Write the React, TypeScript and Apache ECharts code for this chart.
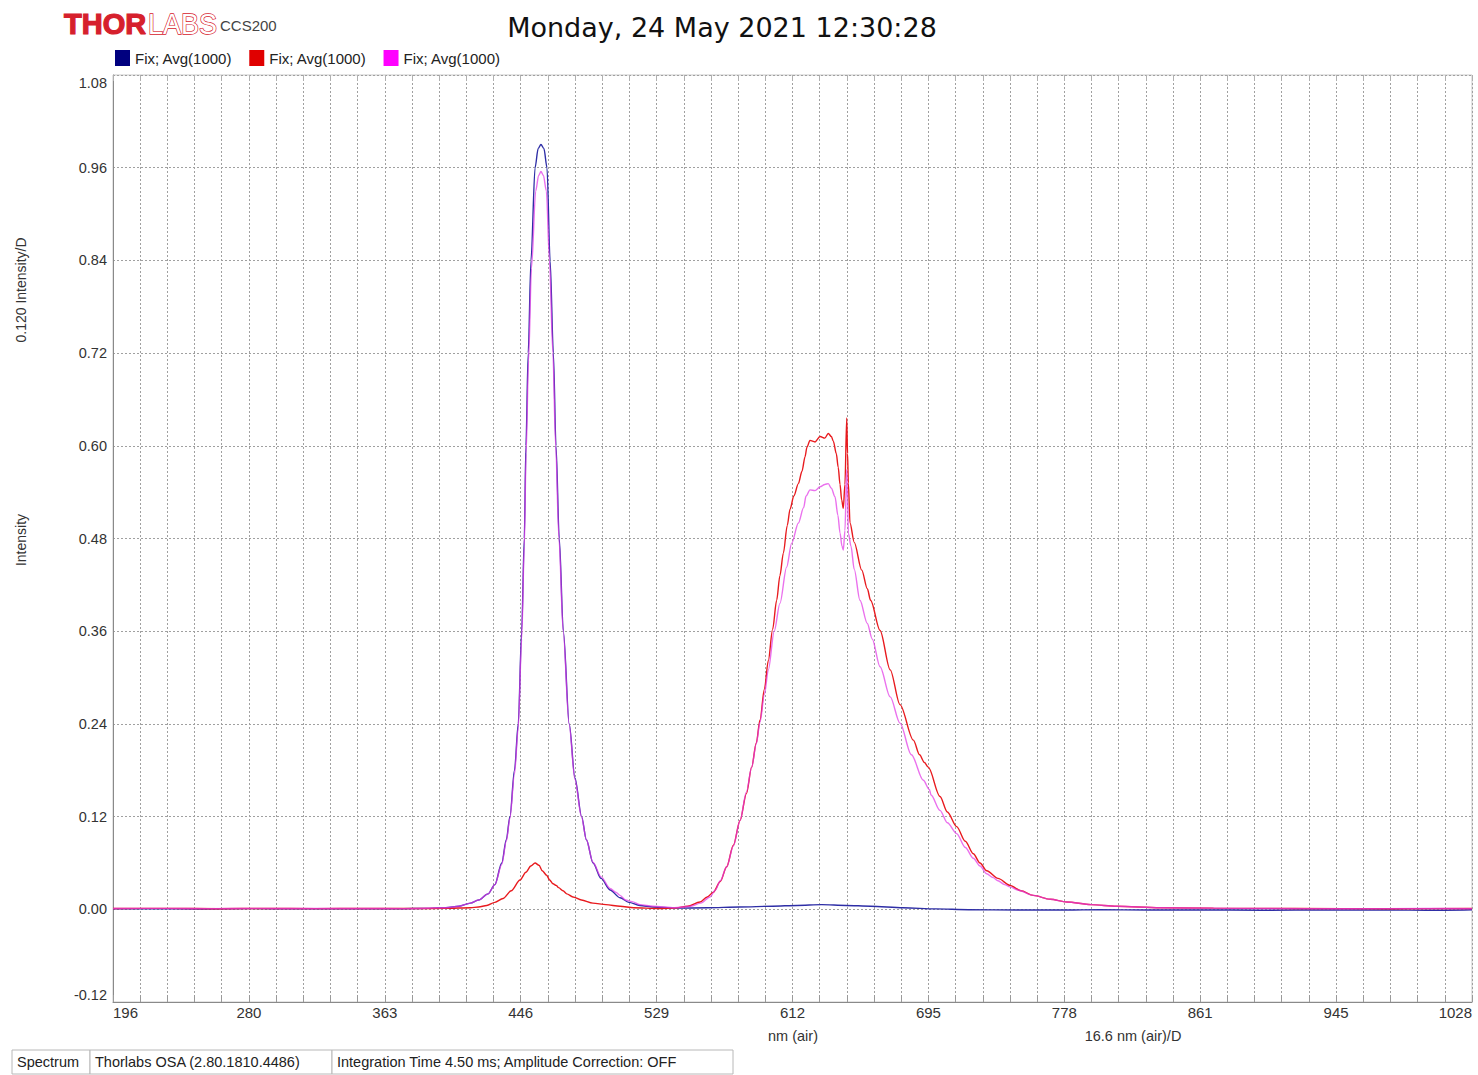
import React, { useEffect, useRef } from "react";
import * as echarts from "echarts";

// ---- axis configuration values ----
const X_MIN = 196.2;
const X_MAX = 1028.2;
const X_DIV = 16.64; // nm per division
const Y_MIN = -0.12;
const Y_MAX = 1.08;
const Y_DIV = 0.12;
const xTickLabels = ["196", "280", "363", "446", "529", "612", "695", "778", "861", "945", "1028"];

// ---- series data [wavelength nm, intensity] ----
const seriesA: number[][] = [
  [196.2, 0.0005], [220, 0.0008], [250, 0.0004], [280, 0.0009], [310, 0.0006], [340, 0.0008],
  [370, 0.0007], [390, 0.0012], [400, 0.002], [408, 0.004], [415, 0.008], [420, 0.012],
  [425.8, 0.02], [430, 0.032], [434.2, 0.06], [437, 0.09], [439.2, 0.12], [442, 0.18],
  [444.3, 0.24], [446.4, 0.36], [448, 0.48], [449, 0.6], [450.4, 0.72], [452.1, 0.84],
  [454.6, 0.96], [456.5, 0.985], [458.2, 0.99], [460, 0.985], [461.9, 0.96], [463.8, 0.84],
  [465.8, 0.72], [467.4, 0.6], [469.4, 0.48], [471.9, 0.36], [475.5, 0.24], [479, 0.17],
  [483.1, 0.12], [486, 0.09], [490.1, 0.06], [495, 0.04], [500.5, 0.025], [506.6, 0.015],
  [512, 0.009], [518.8, 0.005], [526.8, 0.003], [540, 0.0015], [560, 0.002], [580, 0.003],
  [600, 0.004], [615, 0.005], [630, 0.006], [645, 0.005], [660, 0.004], [680, 0.002],
  [700, 0.0005], [720, -0.0005], [750, -0.001], [780, -0.001], [800, -0.0005], [830, -0.001],
  [860, -0.0008], [900, -0.0012], [940, -0.0008], [980, -0.001], [1000, -0.0012], [1028.2, -0.0005],
];

const seriesB: number[][] = [
  [196.2, 0.001], [230, 0.0012], [260, 0.0008], [290, 0.0011], [320, 0.0009], [350, 0.0012],
  [380, 0.001], [400, 0.0012], [415, 0.002], [420, 0.003], [425, 0.005], [430, 0.009],
  [435, 0.014], [440, 0.024], [445.4, 0.038], [449, 0.048], [452, 0.056], [454.6, 0.06],
  [457, 0.057], [459, 0.05], [461.7, 0.044], [463.5, 0.038], [465.6, 0.033], [467.5, 0.031],
  [469, 0.028], [471.7, 0.024], [474, 0.02], [477.8, 0.016], [483, 0.012], [490, 0.008],
  [498, 0.006], [506.6, 0.004], [515, 0.002], [530, 0.001], [540, 0.0015], [548, 0.004],
  [555.6, 0.0095], [560, 0.016], [563.7, 0.022], [568, 0.036], [571.9, 0.055], [576, 0.083],
  [580.1, 0.115], [584, 0.15], [587.2, 0.184], [590, 0.215], [592.3, 0.245], [595, 0.285],
  [597.4, 0.322], [600, 0.362], [602.5, 0.4], [604.5, 0.432], [606.6, 0.461], [609, 0.497],
  [610.7, 0.518], [613, 0.535], [615.8, 0.551], [618, 0.567], [619.9, 0.586], [621, 0.598],
  [622.9, 0.607], [626, 0.605], [629.1, 0.612], [632, 0.61], [634.1, 0.616], [636, 0.612],
  [637.2, 0.606], [639, 0.59], [640.2, 0.572], [641.3, 0.55], [642.3, 0.53], [643.3, 0.519],
  [644.3, 0.55], [645.4, 0.636], [645.9, 0.59], [646.4, 0.552], [647.4, 0.5], [650, 0.475],
  [654.6, 0.439], [658, 0.415], [660, 0.4], [665.8, 0.361], [672, 0.31], [678, 0.265],
  [686.2, 0.219], [690, 0.2], [693, 0.19], [695.3, 0.184], [702.5, 0.146], [707, 0.126],
  [712.7, 0.107], [718, 0.088], [722.9, 0.072], [727, 0.06], [731.1, 0.05], [738, 0.04],
  [745.4, 0.031], [752, 0.024], [759.6, 0.018], [770, 0.013], [780.1, 0.0095], [795, 0.006],
  [810.7, 0.004], [837.2, 0.002], [870, 0.0015], [920, 0.001], [980, 0.0008], [1028.2, 0.001],
];

const seriesC: number[][] = [
  [196.2, 0.001], [225, 0.0012], [255, 0.0009], [285, 0.0012], [315, 0.001], [345, 0.0011],
  [375, 0.0009], [400, 0.002], [408, 0.004], [415, 0.008], [420, 0.012], [425.8, 0.02],
  [430, 0.032], [434.2, 0.058], [437, 0.088], [439.2, 0.118], [442, 0.175], [444.3, 0.235],
  [446.4, 0.35], [448, 0.47], [449.1, 0.59], [450.6, 0.71], [452.4, 0.83], [455, 0.93],
  [456.8, 0.95], [458.2, 0.955], [459.7, 0.95], [461.5, 0.93], [463.4, 0.84], [465.5, 0.72],
  [467.2, 0.6], [469.2, 0.48], [471.8, 0.36], [475.4, 0.24], [479, 0.168], [483, 0.12],
  [486, 0.09], [490, 0.061], [495, 0.042], [500.5, 0.027], [504, 0.022], [506.6, 0.018],
  [510, 0.012], [514, 0.01], [518.8, 0.006], [526.8, 0.004], [540, 0.002], [550, 0.004],
  [556, 0.008], [561.7, 0.016], [565, 0.025], [568, 0.037], [571.9, 0.055], [576, 0.082],
  [580.1, 0.115], [584, 0.152], [587.2, 0.184], [590, 0.214], [592.3, 0.242], [595, 0.278],
  [597.4, 0.31], [601, 0.36], [604.5, 0.396], [608.6, 0.443], [611.7, 0.474], [615.8, 0.5],
  [619, 0.52], [620.5, 0.535], [622.9, 0.543], [626, 0.542], [629.1, 0.547], [632, 0.55],
  [634.1, 0.551], [636, 0.545], [638.2, 0.534], [640, 0.51], [641.3, 0.487], [642.5, 0.47],
  [643.3, 0.465], [644.3, 0.49], [645.4, 0.569], [645.9, 0.53], [646.4, 0.487], [648, 0.47],
  [650, 0.44], [653.5, 0.4], [658, 0.37], [661, 0.35], [665.8, 0.314], [672, 0.275],
  [678, 0.241], [685, 0.2], [692.3, 0.167], [696, 0.155], [697, 0.148], [702.5, 0.128],
  [707, 0.112], [712.7, 0.098], [718, 0.08], [722.9, 0.066], [727, 0.056], [731.1, 0.046],
  [735, 0.041], [738, 0.037], [742, 0.032], [745.4, 0.029], [750, 0.025], [759.6, 0.018],
  [770, 0.013], [780.1, 0.0095], [795, 0.006], [810.7, 0.004], [837.2, 0.002], [870, 0.0015],
  [900, 0.001], [950, 0.0008], [1000, 0.001], [1028.2, 0.0008],
];

const seriesNames = ["A", "B", "C"];
const legendText = "Fix; Avg(1000)";
const titleText = "Monday, 24 May 2021 12:30:28";
const statusCells = ["Spectrum", "Thorlabs OSA (2.80.1810.4486)", "Integration Time 4.50 ms; Amplitude Correction: OFF"];

const FONT = "'Liberation Sans', Arial, sans-serif";

export default function App() {
  const ref = useRef<HTMLDivElement>(null);
  useEffect(() => {
    document.body.style.margin = "0";
    if (!ref.current) return;
    const chart = echarts.init(ref.current, null, { renderer: "svg" });

    const divTicks: number[] = [];
    for (let k = 0; k <= 50; k++) divTicks.push(+(X_MIN + k * X_DIV).toFixed(3));
    const labelTicks: number[] = [];
    for (let k = 0; k <= 10; k++) labelTicks.push(+(X_MIN + k * 5 * X_DIV).toFixed(3));

    const lineSeries = (name: string, data: number[][], legendColor: string, lineColor: string, z: number, opacity: number) => ({
      name,
      type: "line",
      data,
      showSymbol: false,
      symbol: "none",
      smooth: 0.3,
      smoothMonotone: "x",
      z,
      itemStyle: { color: legendColor },
      lineStyle: { color: lineColor, width: 1.4, opacity },
    });

    const cellWidths = [78, 242, 401];
    const statusGraphics: any[] = [];
    let cx = 12;
    statusCells.forEach((t, i) => {
      statusGraphics.push({
        type: "rect",
        shape: { x: cx, y: 1050, width: cellWidths[i], height: 24 },
        style: { fill: "#fff", stroke: "#b8b8b8", lineWidth: 1 },
      });
      statusGraphics.push({
        type: "text",
        x: cx + 5,
        y: 1062,
        style: { text: t, font: `14.5px ${FONT}`, fill: "#222", textVerticalAlign: "middle" },
      });
      cx += cellWidths[i];
    });

    chart.setOption({
      animation: false,
      backgroundColor: "#fff",
      grid: {
        left: 113,
        right: 6,
        top: 75,
        bottom: 73,
        show: true,
        borderColor: "#c8c8c8",
        borderWidth: 1,
        containLabel: false,
      },
      legend: {
        data: seriesNames,
        left: 110,
        top: 45,
        icon: "rect",
        itemWidth: 15,
        itemHeight: 16,
        itemGap: 17,
        formatter: () => legendText,
        textStyle: { fontSize: 15, fontFamily: FONT, color: "#222" },
        selectedMode: false,
      },
      xAxis: [
        {
          type: "value",
          min: X_MIN,
          max: X_MAX,
          axisLine: { show: true, onZero: false, lineStyle: { color: "#8a8a8a", width: 1 } },
          axisTick: { show: true, inside: true, length: 7, customValues: divTicks, lineStyle: { color: "#9a9a9a" } },
          axisLabel: {
            customValues: labelTicks,
            formatter: (v: number) => {
              const i = Math.round((v - X_MIN) / (5 * X_DIV));
              return xTickLabels[i] ?? "";
            },
            alignMinLabel: "left",
            alignMaxLabel: "right",
            fontSize: 15,
            fontFamily: FONT,
            color: "#333",
            margin: 3,
          },
          splitLine: { show: true, lineStyle: { color: "#a0a0a0", type: [2, 2], width: 1 } },
        },
        {
          type: "value",
          position: "top",
          min: X_MIN,
          max: X_MAX,
          axisLine: { show: false, onZero: false },
          axisTick: { show: true, inside: true, length: 6, customValues: divTicks, lineStyle: { color: "#b0b0b0" } },
          axisLabel: { show: false },
          splitLine: { show: false },
        },
      ],
      yAxis: {
        type: "value",
        min: Y_MIN,
        max: Y_MAX,
        interval: Y_DIV,
        axisLine: { show: true, onZero: false, lineStyle: { color: "#8a8a8a", width: 1 } },
        axisTick: { show: false },
        axisLabel: {
          formatter: (v: number) => v.toFixed(2),
          fontSize: 14.5,
          fontFamily: FONT,
          color: "#333",
          margin: 6,
          verticalAlignMaxLabel: "top",
          verticalAlignMinLabel: "bottom",
        },
        splitLine: { show: true, lineStyle: { color: "#a0a0a0", type: [2, 2], width: 1 } },
      },
      series: [
        lineSeries("A", seriesA, "#00007f", "#2e2ea6", 3, 1),
        lineSeries("B", seriesB, "#e00000", "#e81a1e", 4, 1),
        lineSeries("C", seriesC, "#ff00ff", "#e23ae6", 5, 0.72),
      ],
      graphic: [
        {
          type: "text",
          x: 722,
          y: 27,
          style: { text: titleText, font: "27px 'DejaVu Sans', Verdana, sans-serif", fill: "#111", textAlign: "center", textVerticalAlign: "middle" },
        },
        {
          type: "text",
          x: 64,
          y: 24,
          style: { text: "THOR", font: `bold 29px ${FONT}`, fill: "#d6202c", stroke: "#d6202c", lineWidth: 1.2, textVerticalAlign: "middle" },
        },
        {
          type: "text",
          x: 148,
          y: 24,
          scaleX: 0.93,
          style: { text: "LABS", font: `29px ${FONT}`, fill: "#fff", stroke: "#d6202c", lineWidth: 1.4, textVerticalAlign: "middle" },
        },
        {
          type: "text",
          x: 220,
          y: 25,
          style: { text: "CCS200", font: `15px ${FONT}`, fill: "#444", textVerticalAlign: "middle" },
        },
        {
          type: "text",
          x: 793,
          y: 1036,
          style: { text: "nm (air)", font: `14.5px ${FONT}`, fill: "#333", textAlign: "center", textVerticalAlign: "middle" },
        },
        {
          type: "text",
          x: 1133,
          y: 1036,
          style: { text: "16.6 nm (air)/D", font: `14.5px ${FONT}`, fill: "#333", textAlign: "center", textVerticalAlign: "middle" },
        },
        {
          type: "text",
          x: 21,
          y: 290,
          rotation: Math.PI / 2,
          style: { text: "0.120 Intensity/D", font: `14px ${FONT}`, fill: "#333", textAlign: "center", textVerticalAlign: "middle" },
        },
        {
          type: "text",
          x: 21,
          y: 540,
          rotation: Math.PI / 2,
          style: { text: "Intensity", font: `14px ${FONT}`, fill: "#333", textAlign: "center", textVerticalAlign: "middle" },
        },
        ...statusGraphics,
      ],
    });
    return () => chart.dispose();
  }, []);
  return <div ref={ref} style={{ width: 1478, height: 1075 }} />;
}
